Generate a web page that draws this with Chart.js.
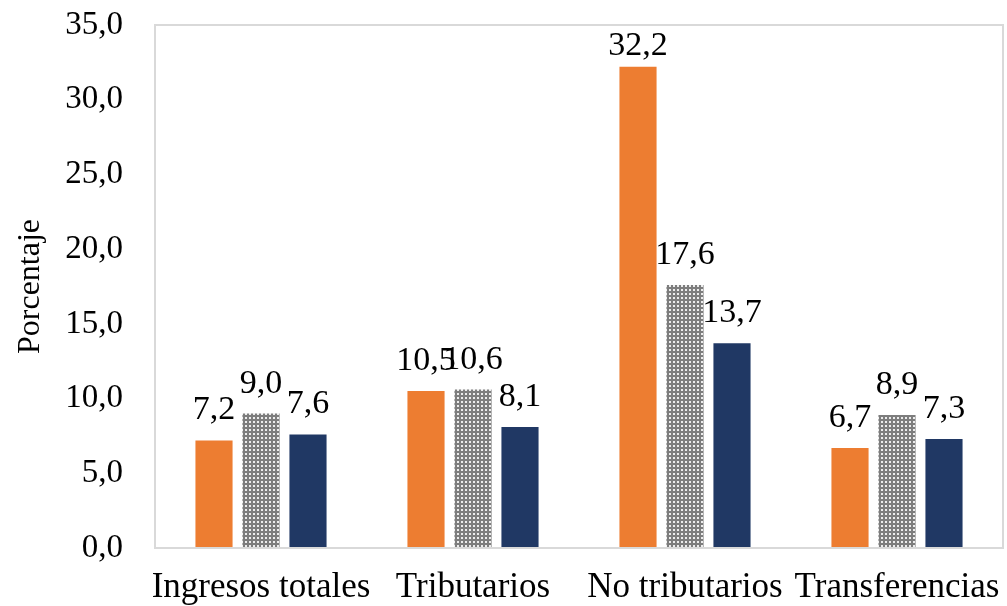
<!DOCTYPE html>
<html>
<head>
<meta charset="utf-8">
<script src="https://cdn.jsdelivr.net/npm/chart.js@4"></script>
<style>
  html, body { margin: 0; padding: 0; background: #ffffff; }
  #wrap { width: 1007px; height: 606px; position: relative; }
</style>
</head>
<body>
<div id="wrap"><canvas id="c" width="1007" height="606"></canvas></div>
<script>
const categories = ['Ingresos totales', 'Tributarios', 'No tributarios', 'Transferencias'];
const serie1 = [7.2, 10.5, 32.2, 6.7];
const serie2 = [9.0, 10.6, 17.6, 8.9];
const serie3 = [7.6, 8.1, 13.7, 7.3];
const yTicks = [0, 5, 10, 15, 20, 25, 30, 35];
const yTitle = 'Porcentaje';

const FONT = "'Liberation Serif', 'Times New Roman', serif";
const fmt = v => Number(v).toFixed(1).replace('.', ',');

function makePattern() {
  const t = document.createElement('canvas');
  t.width = 4; t.height = 4;
  const g = t.getContext('2d');
  g.fillStyle = '#7d7d7d';
  g.fillRect(0, 0, 4, 4);
  g.fillStyle = '#ececec';
  g.fillRect(1, 1, 2, 2);
  return document.getElementById('c').getContext('2d').createPattern(t, 'repeat');
}

const frame = {
  id: 'frame',
  afterDraw(chart) {
    const { ctx, chartArea: a } = chart;
    ctx.save();
    ctx.strokeStyle = '#d9d9d9';
    ctx.lineWidth = 2;
    ctx.strokeRect(a.left, a.top, a.right - a.left, a.bottom - a.top);
    ctx.restore();
  }
};

const labels = {
  id: 'labels',
  afterDatasetsDraw(chart) {
    const { ctx, chartArea: a } = chart;
    ctx.save();
    ctx.font = "34px " + FONT;
    ctx.fillStyle = '#000000';
    ctx.textAlign = 'center';
    ctx.textBaseline = 'alphabetic';
    chart.data.datasets.forEach((ds, i) => {
      const meta = chart.getDatasetMeta(i);
      meta.data.forEach((bar, j) => {
        const y = Math.max(bar.y - 21, a.top + 30);
        ctx.fillText(fmt(ds.data[j]), bar.x, y);
      });
    });
    ctx.restore();
  }
};

new Chart(document.getElementById('c'), {
  type: 'bar',
  data: {
    labels: categories,
    datasets: [
      { label: 'Serie 1', data: serie1, backgroundColor: '#ED7D31' },
      { label: 'Serie 2', data: serie2, backgroundColor: makePattern() },
      { label: 'Serie 3', data: serie3, backgroundColor: '#203864' }
    ]
  },
  options: {
    responsive: false,
    animation: false,
    devicePixelRatio: 1,
    layout: { padding: { left: 0, right: 4, top: 25, bottom: 0 } },
    datasets: { bar: { categoryPercentage: 0.665, barPercentage: 0.79 } },
    plugins: { legend: { display: false }, tooltip: { enabled: false } },
    scales: {
      x: {
        grid: { display: false, drawTicks: false },
        border: { display: false },
        ticks: { color: '#000000', font: { family: FONT, size: 35 }, padding: 19, maxRotation: 0, autoSkip: false },
        afterFit(s) { s.height = 58; s.paddingLeft = 0; s.paddingRight = 0; s.paddingTop = 0; s.paddingBottom = 0; }
      },
      y: {
        min: 0, max: 35,
        grid: { display: false, drawTicks: false },
        border: { display: false },
        afterBuildTicks(s) { s.ticks = yTicks.map(v => ({ value: v })); },
        ticks: { color: '#000000', font: { family: FONT, size: 33 }, padding: 32, callback: v => fmt(v) },
        title: { display: true, text: yTitle, color: '#000000', font: { family: FONT, size: 32 }, padding: { top: 11, bottom: 0 } },
        afterFit(s) { s.width = 155; s.paddingLeft = 0; s.paddingRight = 0; s.paddingTop = 0; s.paddingBottom = 0; }
      }
    }
  },
  plugins: [frame, labels]
});
</script>
</body>
</html>
